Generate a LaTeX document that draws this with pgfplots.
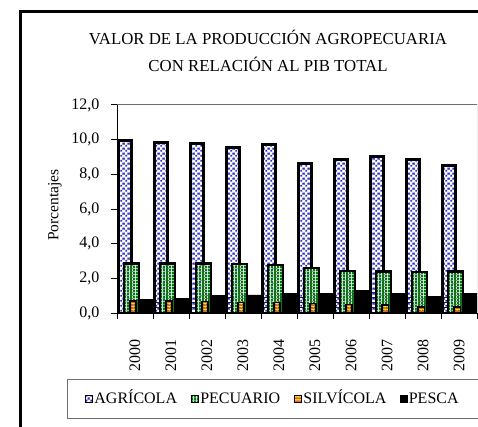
\documentclass[border=0pt]{standalone}
\usepackage{fontspec}
\setmainfont{Liberation Serif}
\usepackage{pgfplots}
\usepackage{pgfplotstable}
\pgfplotsset{compat=1.18}
\usetikzlibrary{patterns.meta}

\definecolor{agrblue}{RGB}{45,45,190}
\definecolor{pecgreen}{RGB}{0,120,15}
\definecolor{silorange}{RGB}{225,85,30}
\definecolor{silyellow}{RGB}{255,225,0}
\definecolor{framegray}{RGB}{110,110,110}

% relleno punteado azul (agricola)
\pgfdeclarepattern{
  name=agr, type=colored,
  bottom left={\pgfpoint{0pt}{0pt}}, top right={\pgfpoint{5pt}{5pt}},
  tile size={\pgfpoint{5pt}{5pt}},
  code={
    \pgfsetfillcolor{white}
    \pgfpathrectangle{\pgfpointorigin}{\pgfpoint{5pt}{5pt}}\pgfusepath{fill}
    \pgfsetfillcolor{agrblue}
    \pgfpathrectangle{\pgfpoint{0.3pt}{0.3pt}}{\pgfpoint{2.3pt}{2.3pt}}
    \pgfpathrectangle{\pgfpoint{2.8pt}{2.8pt}}{\pgfpoint{2.3pt}{2.3pt}}
    \pgfusepath{fill}
  }
}
% rayas verticales verdes (pecuario)
\pgfdeclarepattern{
  name=pec, type=colored,
  bottom left={\pgfpoint{0pt}{0pt}}, top right={\pgfpoint{3.2pt}{3pt}},
  tile size={\pgfpoint{3.2pt}{3pt}},
  code={
    \pgfsetfillcolor{white}
    \pgfpathrectangle{\pgfpointorigin}{\pgfpoint{3.2pt}{3pt}}\pgfusepath{fill}
    \pgfsetfillcolor{pecgreen}
    \pgfpathrectangle{\pgfpointorigin}{\pgfpoint{2.5pt}{3pt}}\pgfusepath{fill}
  }
}
% rayas horizontales amarillas (silvicola)
\pgfdeclarepattern{
  name=sil, type=colored,
  bottom left={\pgfpoint{0pt}{0pt}}, top right={\pgfpoint{3pt}{3pt}},
  tile size={\pgfpoint{3pt}{3pt}},
  code={
    \pgfsetfillcolor{silorange}
    \pgfpathrectangle{\pgfpointorigin}{\pgfpoint{3pt}{3pt}}\pgfusepath{fill}
    \pgfsetfillcolor{silyellow}
    \pgfpathrectangle{\pgfpointorigin}{\pgfpoint{3pt}{1.3pt}}\pgfusepath{fill}
  }
}

\pgfplotstableread{
idx agr  pec  sil  pes
0   9.95 2.86 0.70 0.78
1   9.85 2.86 0.70 0.85
2   9.80 2.86 0.66 1.00
3   9.55 2.82 0.62 1.04
4   9.70 2.76 0.62 1.13
5   8.62 2.60 0.56 1.13
6   8.86 2.43 0.48 1.30
7   9.02 2.40 0.46 1.13
8   8.86 2.38 0.34 0.96
9   8.50 2.40 0.34 1.13
}\datos

\begin{document}
\begin{tikzpicture}
\path[use as bounding box, fill=white] (0pt,0pt) rectangle (478pt,-427pt);
\draw[line width=3pt] (20.5pt,-440pt) -- (20.5pt,-11.5pt) -- (490pt,-11.5pt);
\node[font=\fontsize{16.8}{20}\selectfont, anchor=base] at (268pt,-45pt) {VALOR DE LA PRODUCCIÓN AGROPECUARIA};
\node[font=\fontsize{16.8}{20}\selectfont, anchor=base] at (268pt,-72pt) {CON RELACIÓN AL PIB TOTAL};
\draw[framegray, line width=1pt] (67pt,-379pt) rectangle (495pt,-418pt);

\begin{axis}[
  scale only axis, width=360pt, height=208pt,
  at={(117pt,-313pt)}, anchor=south west,
  xmin=-0.5, xmax=9.5, ymin=0, ymax=12,
  axis line style={draw=none},
  ytick={0,2,...,12},
  xtick={0,...,9},
  xticklabels={2000,2001,2002,2003,2004,2005,2006,2007,2008,2009},
  minor xtick={-0.5,0.5,...,9.5},
  tick align=outside, xtick pos=bottom, ytick pos=left,
  major tick length=6pt, minor tick length=6pt,
  tick style={black, line width=1pt},
  major x tick style={draw=none},
  tick label style={font=\fontsize{16}{19}\selectfont},
  xticklabel style={yshift=-17pt, rotate=90, anchor=east},
  yticklabel style={xshift=-8pt, /pgf/number format/.cd, use comma, fixed, fixed zerofill, precision=1, assume math mode=true},
  ylabel={Porcentajes},
  every axis y label/.style={at={(axis description cs:0,0.5)}, xshift=-62pt, yshift=4pt, rotate=90, anchor=center, font=\fontsize{15.5}{18}\selectfont},
  legend style={draw=none, fill=none, at={(-0.0889,-0.4135)}, anchor=west, legend columns=4,
    font=\fontsize{16}{19}\selectfont, inner sep=0pt,
    nodes={inner sep=1pt, text height=11.5pt, text depth=3pt},
    /tikz/every even column/.append style={column sep=13pt}},
]
\addplot[ybar, bar width=0.667, bar shift=0.306, fill=black, draw=black, forget plot] table[x=idx, y=pes] {\datos};
\addplot[ybar, bar width=0.375, bar shift=-0.278, pattern=agr, draw=black, line width=2.8pt, forget plot] table[x=idx, y=agr] {\datos};
\addplot[ybar, bar width=0.417, bar shift=-0.097, pattern=pec, draw=black, line width=2.2pt, forget plot] table[x=idx, y=pec] {\datos};
\addplot[ybar, bar width=0.167, bar shift=-0.049, pattern=sil, draw=black, line width=1.5pt, forget plot] table[x=idx, y=sil] {\datos};

\draw[framegray, line width=1pt] (rel axis cs:0,1) -- (rel axis cs:1,1) -- (rel axis cs:1,0);
\draw[black, line width=1.5pt] (rel axis cs:0,1) -- (rel axis cs:0,0) -- (rel axis cs:1,0);

\addlegendimage{legend image code/.code={\draw[pattern=agr, draw=black, line width=1.2pt] (0pt,-3.5pt) rectangle (7pt,3.5pt);}}
\addlegendentry{AGRÍCOLA}
\addlegendimage{legend image code/.code={\draw[pattern=pec, draw=black, line width=1.2pt] (0pt,-3.5pt) rectangle (7pt,3.5pt);}}
\addlegendentry{PECUARIO}
\addlegendimage{legend image code/.code={\draw[pattern=sil, draw=black, line width=1.2pt] (0pt,-3.5pt) rectangle (7pt,3.5pt);}}
\addlegendentry{SILVÍCOLA}
\addlegendimage{legend image code/.code={\fill[black] (0pt,-3.5pt) rectangle (7pt,3.5pt);}}
\addlegendentry{PESCA}
\end{axis}
\end{tikzpicture}
\end{document}
